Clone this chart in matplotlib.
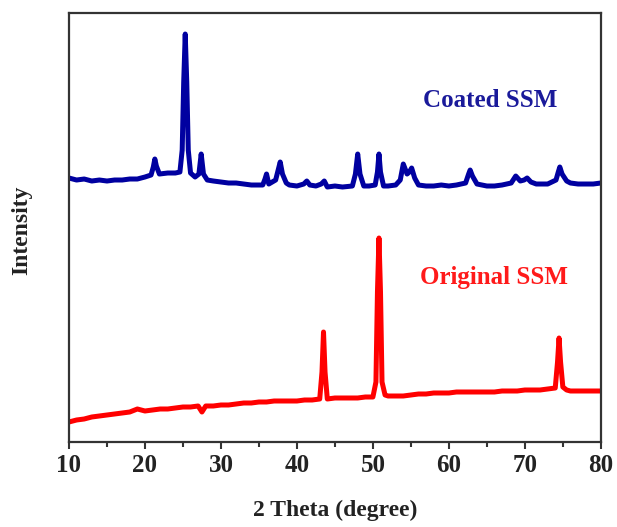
import matplotlib
matplotlib.use("Agg")
import matplotlib.pyplot as plt
from matplotlib.ticker import MultipleLocator

plt.rcParams['font.family'] = ['Liberation Serif', 'DejaVu Serif']
plt.rcParams['font.weight'] = 'bold'

# coated SSM pattern (arbitrary intensity units)
coated_x = [10, 11, 12, 13, 14, 15, 16, 17, 18, 19, 20, 20.8, 21.1, 21.3, 21.5, 21.9,
            23, 24, 24.6, 24.9, 25.1, 25.3, 25.5, 25.7, 26.0, 26.6, 27.1, 27.4, 27.7, 28.2,
            29, 30, 31, 32, 33, 34, 35.5, 35.8, 36.0, 36.3, 37.2, 37.6, 37.8, 38.1, 38.6,
            39, 40, 40.9, 41.3, 41.7, 42.5, 43.2, 43.6, 44.0, 45, 46, 47.3, 47.7, 48.0, 48.3,
            48.8, 49.5, 50.3, 50.6, 50.8, 51.0, 51.4, 52, 53, 53.6, 54.0, 54.5, 54.8, 55.1,
            55.5, 56.0, 57, 58, 59, 60, 61, 62.2, 62.6, 62.8, 63.1, 63.7, 65, 66, 67, 68.2,
            68.8, 69.4, 69.9, 70.3, 70.8, 71.5, 72.5, 73, 74.1, 74.4, 74.6, 74.9, 75.5, 76,
            77, 78, 79, 80]
coated_y = [264, 262, 263, 261, 262, 261, 262, 262, 263, 263, 265, 267, 275, 283, 276, 268,
            269, 269, 270, 292, 360, 408, 360, 292, 269, 265, 268, 288, 268, 262,
            261, 260, 259, 259, 258, 257, 257, 263, 268, 258, 262, 274, 280, 268, 259,
            257, 256, 258, 261, 257, 256, 258, 261, 255, 256, 255, 256, 268, 288, 268,
            256, 256, 257, 270, 288, 270, 256, 256, 257, 262, 278, 268, 270, 274,
            264, 257, 256, 256, 257, 256, 257, 259, 268, 272, 266, 258, 256, 256, 257, 259,
            266, 261, 262, 264, 260, 258, 258, 258, 262, 270, 275, 268, 261, 259,
            258, 258, 258, 259]

# original SSM pattern
original_x = [10, 11, 12, 13, 14, 15, 16, 17, 18, 19, 20, 21, 22, 23, 24, 25, 26, 27,
              27.5, 28, 29, 30, 31, 32, 33, 34, 35, 36, 37, 38, 39, 40, 41, 42, 43,
              43.3, 43.5, 43.7, 44.0, 45, 46, 47, 48, 49, 50, 50.4, 50.6, 50.8, 51.0,
              51.2, 51.6, 52, 53, 54, 55, 56, 57, 58, 59, 60, 61, 62, 63, 64, 65, 66,
              67, 68, 69, 70, 71, 72, 73, 74.0, 74.3, 74.5, 74.7, 75.0, 75.5, 76, 77,
              78, 79, 80]
original_y = [20, 22, 23, 25, 26, 27, 28, 29, 30, 33, 31, 32, 33, 33, 34, 35, 35, 36,
              30, 36, 36, 37, 37, 38, 39, 39, 40, 40, 41, 41, 41, 41, 42, 42, 43,
              70, 110, 70, 43, 44, 44, 44, 44, 45, 45, 60, 150, 204, 150,
              60, 47, 46, 46, 46, 47, 48, 48, 49, 49, 49, 50, 50, 50, 50, 50, 50,
              51, 51, 51, 52, 52, 52, 53, 54, 80, 104, 80, 55, 52, 51, 51,
              51, 51, 51]

fig = plt.figure(figsize=(6.17, 5.27), dpi=100)
ax = fig.add_axes([0.1118, 0.1613, 0.862, 0.814])

ax.plot(coated_x, coated_y, color='#0000a0', lw=3.6, solid_joinstyle='round')
ax.plot(original_x, original_y, color='#ff0000', lw=3.6, solid_joinstyle='round')

ax.text(65.5, 342, 'Coated SSM', color='#1a1a9a', fontsize=18, fontweight='bold',
        ha='center', va='center')
ax.text(66.0, 165, 'Original SSM', color='#ff1a1a', fontsize=18, fontweight='bold',
        ha='center', va='center')

ax.set_xlim(10, 80)
ax.set_ylim(0, 429)
ax.xaxis.set_major_locator(MultipleLocator(10))
ax.xaxis.set_minor_locator(MultipleLocator(5))
ax.tick_params(axis='x', which='major', direction='out', length=5, width=1.5,
               labelsize=18, pad=4, color='#333333')
ax.tick_params(axis='x', which='minor', direction='out', length=3.5, width=1.5,
               color='#333333')
ax.set_yticks([])
for sp in ax.spines.values():
    sp.set_linewidth(1.6)
    sp.set_color('#333333')
for lab in ax.get_xticklabels():
    lab.set_fontweight('bold')
    lab.set_color('#222222')

fig.text(335 / 617, 1 - 510 / 527, '2 Theta (degree)', fontsize=17, fontweight='bold',
         ha='center', va='center', color='#222222')
fig.text(22 / 617, 1 - 230 / 527, 'Intensity', fontsize=17, fontweight='bold',
         rotation=90, ha='center', va='center', color='#222222')

fig.savefig('out.png', dpi=100)
